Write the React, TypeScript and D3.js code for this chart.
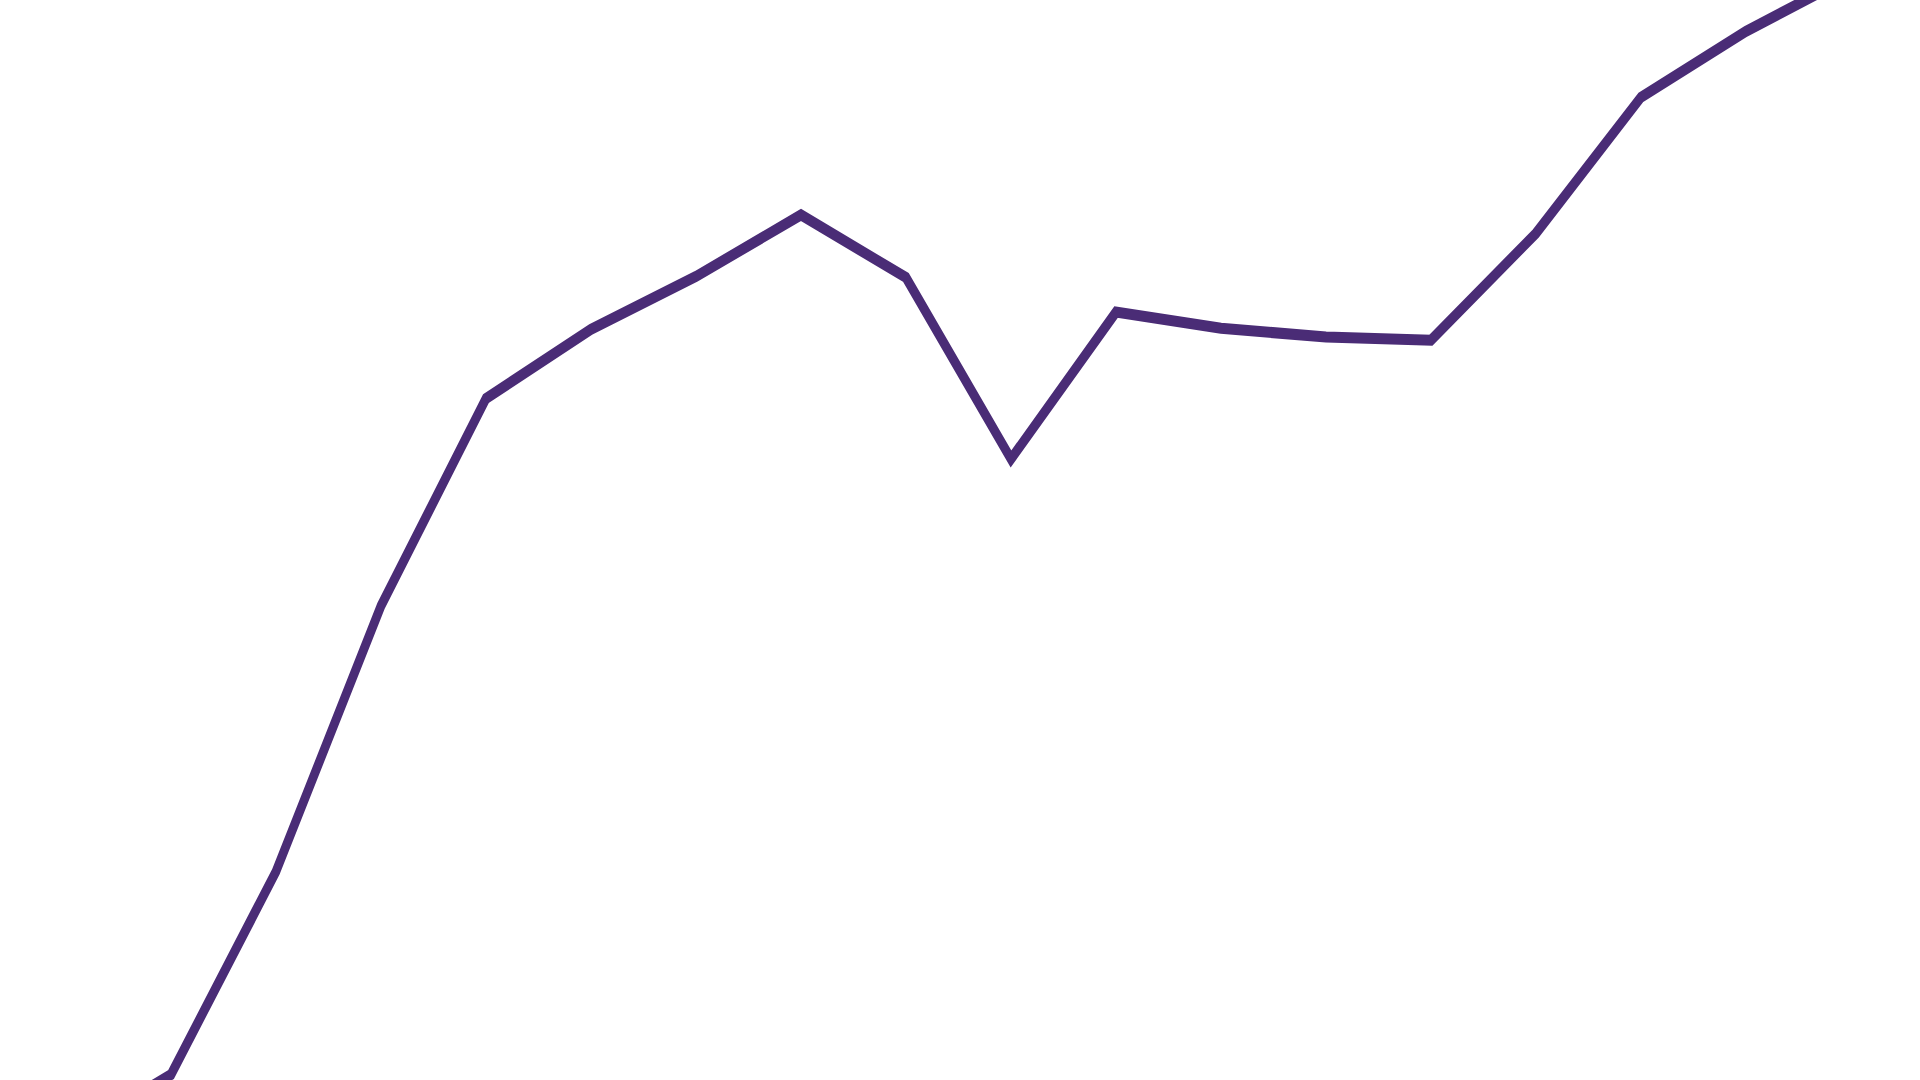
import * as d3 from 'd3';
import { type FC, useMemo } from 'react';

// Cropped view of a single series, no axes visible.
const periods = [0, 1, 2, 3, 4, 5, 6, 7, 8, 9, 10, 11, 12, 13, 14, 15, 16, 17];
const values = [
  -5.3, 0.5, 19.3, 43.9, 63.1, 69.5, 74.4, 80.1, 74.3, 57.5, 71.1, 69.6,
  68.8, 68.5, 78.4, 91.0, 97.1, 102.2,
];

const WIDTH = 1920;
const HEIGHT = 1080;
// the source looks stretched vertically, so flat segments read thicker
const STRETCH = 1.3;

const App: FC = () => {
  const path = useMemo(() => {
    const x = d3
      .scaleLinear()
      .domain([periods[0], periods[periods.length - 1]])
      .range([66, 1851]);
    const y = d3
      .scaleLinear()
      .domain([0, 100])
      .range([HEIGHT / STRETCH, 0]);
    const line = d3
      .line<number>()
      .x((_, i) => x(periods[i]))
      .y((d) => y(d));
    return line(values) ?? '';
  }, []);

  return (
    <div
      style={{
        position: 'fixed',
        left: 0,
        top: 0,
        width: WIDTH,
        height: HEIGHT,
        background: '#fff',
        overflow: 'hidden',
      }}
    >
      <svg width={WIDTH} height={HEIGHT} style={{ display: 'block' }}>
        <g transform={`scale(1,${STRETCH})`}>
          <path
            d={path}
            fill="none"
            stroke="#4a2c76"
            strokeWidth={8.5}
            strokeLinejoin="miter"
          />
        </g>
      </svg>
    </div>
  );
};

export default App;
